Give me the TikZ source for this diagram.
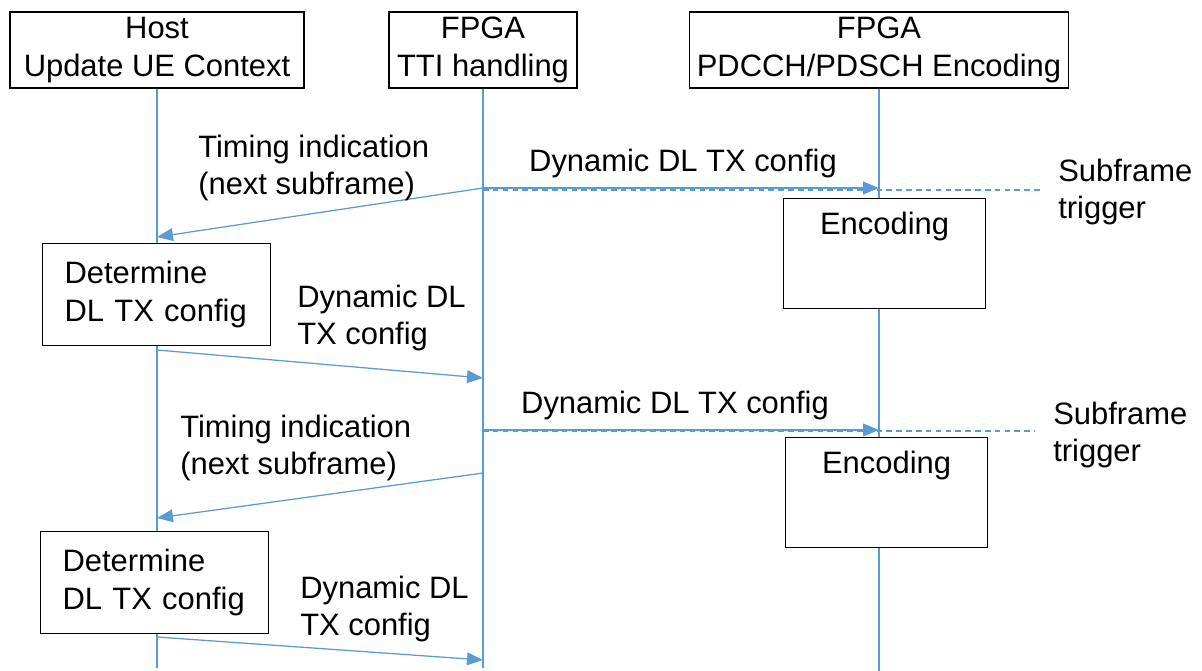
\documentclass[tikz,border=0pt]{standalone}
\usepackage{fontspec}
\setmainfont{Liberation Sans}
\usetikzlibrary{arrows.meta}
\definecolor{lineblue}{RGB}{91,155,213}

\begin{document}
\begin{tikzpicture}[>={Triangle[length=0.4cm,width=0.32cm]},
  font=\fontsize{22}{26.5}\selectfont,
  head/.style={draw,fill=white,line width=0.8pt,minimum height=1.9cm,inner sep=0,align=center},
  detbox/.style={draw,fill=white,line width=0.8pt,minimum height=2.55cm,
    text width=4.6cm,inner xsep=0.55cm,align=left,anchor=north west},
  encbox/.style={draw,fill=white,line width=0.8pt,minimum width=5.05cm,
    minimum height=2.75cm,anchor=north west,
    label={[anchor=north,yshift=-0.22cm]north:Encoding}},
  life/.style={lineblue,line width=0.9pt},
  msg/.style={lineblue,line width=0.9pt,->},
  trig/.style={lineblue,line width=0.9pt,dash pattern=on 4pt off 3pt},
  lbl/.style={inner sep=0,align=left}]

\useasboundingbox (0,0) rectangle (30.05,-16.775);

% Lifeline heads
\node[head,minimum width=7.35cm] (host) at (3.925,-1.25) {Host\\Update UE Context};
\node[head,minimum width=4.7cm] (tti) at (12.075,-1.25) {FPGA\\TTI handling};
\node[head,minimum width=9.475cm] (enc) at (21.975,-1.25) {FPGA\\PDCCH/PDSCH Encoding};

% Lifelines
\coordinate (hostend) at (host |- 0,-16.7);
\coordinate (ttiend) at (tti |- 0,-16.7);
\coordinate (encend) at (enc |- 0,-16.775);
\draw[life] (host.south) -- (hostend);
\draw[life] (tti.south) -- (ttiend);
\draw[life] (enc.south) -- (encend);

% Message end points
\coordinate (t1) at (tti |- 0,-4.7);
\coordinate (e1) at (enc |- 0,-4.7);
\coordinate (s1) at (26,-4.75);
\coordinate (h1) at (host |- 0,-5.925);
\coordinate (h2) at (host |- 0,-8.75);
\coordinate (t2) at (tti |- 0,-9.45);
\coordinate (t3) at (tti |- 0,-10.75);
\coordinate (e3) at (enc |- 0,-10.75);
\coordinate (s3) at (25.875,-10.775);
\coordinate (t4) at (tti |- 0,-11.825);
\coordinate (h4) at (host |- 0,-12.95);
\coordinate (h5) at (host |- 0,-15.925);
\coordinate (t5) at (tti |- 0,-16.5);

% First subframe
\draw[trig] (t1 |- s1) -- (s1);
\draw[msg] (t1) -- (e1);
\draw[msg] (t1) -- (h1);
\node[lbl,anchor=west] at (4.95,-4.2) {Timing indication\\(next subframe)};
\node[lbl] at (17.075,-4.1) {Dynamic DL TX config};
\node[lbl,anchor=west] at (26.45,-4.8) {Subframe\\trigger};
\node[encbox] (encbox1) at (19.575,-4.95) {};
\node[detbox] (det1) at (1.05,-6.075) {Determine\\DL TX config};
\draw[msg] (h2) -- (t2);
\node[lbl,anchor=west] at (7.425,-7.95) {Dynamic DL\\TX config};

% Second subframe
\draw[trig] (t3 |- s3) -- (s3);
\draw[msg] (t3) -- (e3);
\node[lbl] at (16.875,-10.125) {Dynamic DL TX config};
\node[lbl,anchor=west] at (26.325,-10.875) {Subframe\\trigger};
\draw[msg] (t4) -- (h4);
\node[lbl,anchor=west] at (4.5,-11.2) {Timing indication\\(next subframe)};
\node[encbox] (encbox2) at (19.625,-10.925) {};
\node[detbox] (det2) at (1.0,-13.275) {Determine\\DL TX config};
\draw[msg] (h5) -- (t5);
\node[lbl,anchor=west] at (7.5,-15.225) {Dynamic DL\\TX config};

\end{tikzpicture}
\end{document}
